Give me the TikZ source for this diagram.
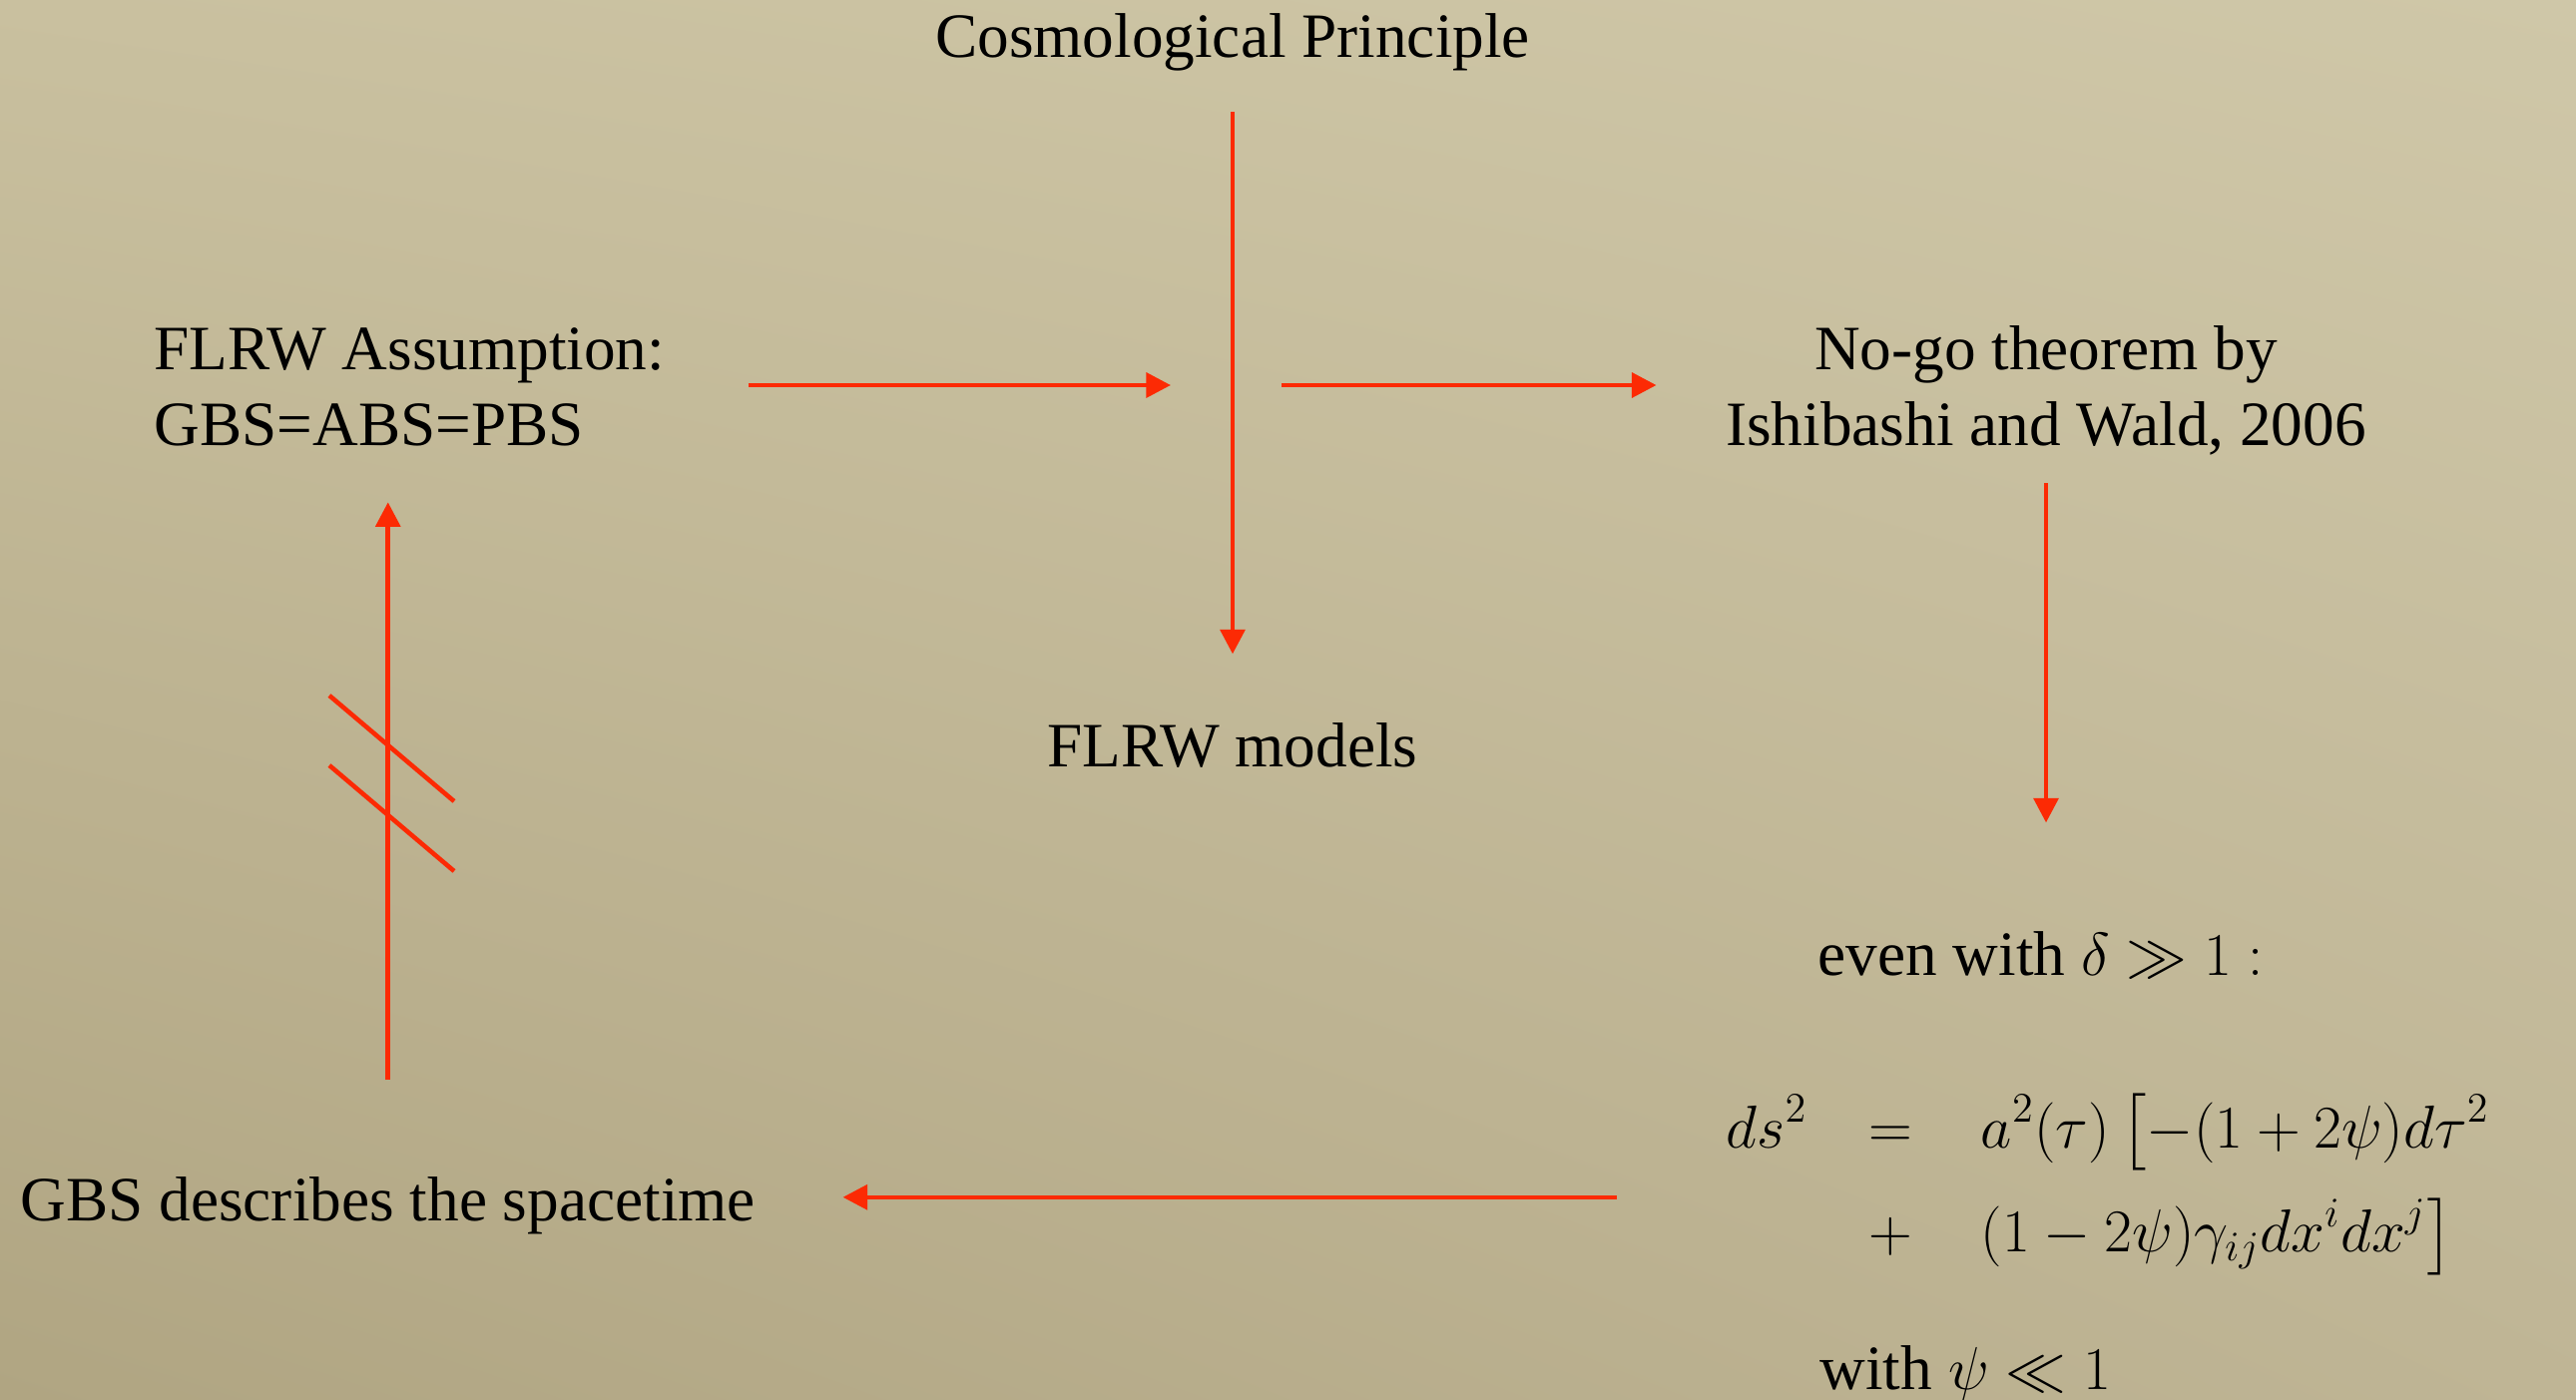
\documentclass[tikz,border=0pt]{standalone}
\usepackage{amsmath,amssymb}
\usepackage[no-math]{fontspec}
\setmainfont{Liberation Serif}
\usepackage{xcolor}
\usepackage{tikz}
\usetikzlibrary{positioning,arrows.meta,shadings}

\definecolor{arrowred}{RGB}{252,42,4}
\definecolor{paperUL}{RGB}{201,192,159}
\definecolor{paperUR}{RGB}{207,199,168}
\definecolor{paperLL}{RGB}{176,165,130}
\definecolor{paperLR}{RGB}{191,181,149}

\begin{document}
\begin{tikzpicture}[font=\fontsize{18}{21.8}\selectfont, >={Triangle[length=7pt,width=7pt]},
    txt/.style={inner sep=0pt},
    link/.style={->, draw=arrowred, line width=1.3pt}]
    % background
    \shade[upper left=paperUL, upper right=paperUR, lower left=paperLL, lower right=paperLR] (0,0) rectangle (25.81,14.02);
    \useasboundingbox (0,0) rectangle (25.81,14.02);

    % nodes
    \node [txt, anchor=base] (principle) at (12.35,13.44) {Cosmological Principle};
    \node [txt, anchor=base] (models) at (12.35,6.34) {FLRW models};
    \node [txt, anchor=base west, align=left] (assumption) at (1.54,9.55) {FLRW Assumption:\\GBS=ABS=PBS};
    \node [txt, anchor=base, align=center] (nogo) at (20.50,9.55) {No-go theorem by\\Ishibashi and Wald, 2006};
    \node [txt, anchor=base west] (evenwith) at (18.21,4.25) {even with $\delta\gg1:$};
    \node [txt, anchor=base west, font=\fontsize{18.3}{22}\selectfont] (metric) at (17.29,2.52)
        {$\begin{array}[t]{@{}r@{\hspace{17.6pt}}c@{\hspace{19.4pt}}l@{}}
            \displaystyle ds^2 & = & \displaystyle a^2(\tau)\,\bigl[-(1+2\psi)d\tau^2 \\[7.8pt]
             & + & \displaystyle (1-2\psi)\gamma_{ij}dx^idx^j\bigr]
          \end{array}$};
    \node [txt, anchor=base west] (smallpsi) at (18.23,0.10) {with $\psi\ll1$};
    \node [txt, anchor=base west] (gbs) at (0.20,1.79) {GBS describes the spacetime};
    \coordinate (crossing) at (12.36,10.16);
    \coordinate (gbsport) at ([yshift=0.08cm]gbs.east);

    % edges
    \draw [link, shorten <=0.40cm, shorten >=0.68cm] (principle.south) -- (models.north);
    \draw [link, shorten <=0.83cm, shorten >=0.63cm] (assumption.east |- crossing) -- (crossing);
    \draw [link, shorten <=0.48cm, shorten >=0.69cm] (crossing) -- (nogo.west |- crossing);
    \draw [link, shorten <=0.27cm, shorten >=1.08cm] (nogo.south) -- (nogo.south |- evenwith.north);
    \draw [link, shorten <=1.09cm, shorten >=0.87cm] (metric.west |- gbsport) -- (gbsport);
    \draw [link, shorten <=0.96cm, shorten >=0.55cm] (gbs.north) -- (gbs.north |- assumption.south);
    \foreach \y in {6.52,5.82}
        \draw [arrowred, line width=1.3pt] (3.30,\y+0.53) -- (4.55,\y-0.53);
\end{tikzpicture}
\end{document}
